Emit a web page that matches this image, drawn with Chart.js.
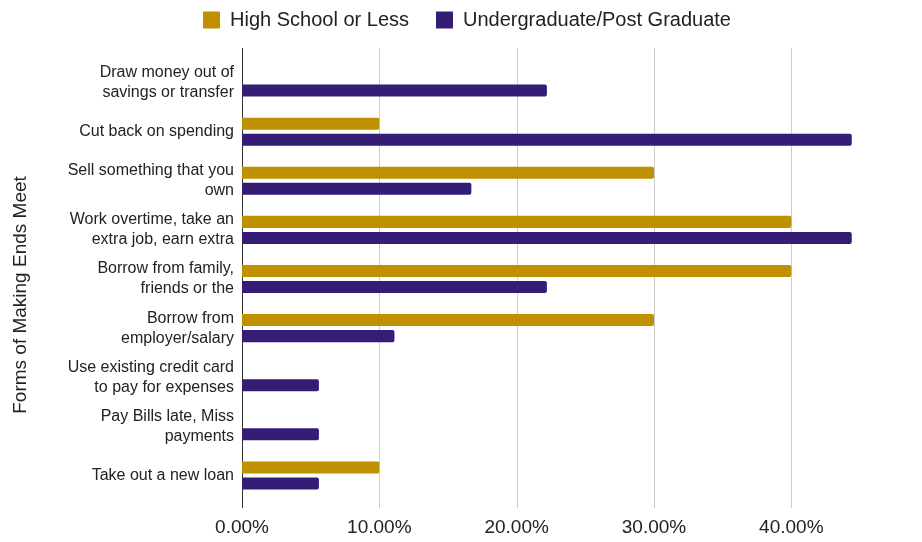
<!DOCTYPE html>
<html>
<head>
<meta charset="utf-8">
<script src="https://cdn.jsdelivr.net/npm/chart.js@4"></script>
<style>
  html, body { margin: 0; padding: 0; background: #fff; }
  #wrap { width: 922px; height: 542px; }
</style>
</head>
<body>
<div id="wrap"><canvas id="chart" width="922" height="542"></canvas></div>
<script>
// categories (y axis), multi-line like the original
const categories = [
    ['Draw money out of', 'savings or transfer'],
    'Cut back on spending',
    ['Sell something that you', 'own'],
    ['Work overtime, take an', 'extra job, earn extra'],
    ['Borrow from family,', 'friends or the'],
    ['Borrow from', 'employer/salary'],
    ['Use existing credit card', 'to pay for expenses'],
    ['Pay Bills late, Miss', 'payments'],
    'Take out a new loan'
];

// shares, as fractions
const highSchool = [0, 0.10, 0.30, 0.40, 0.40, 0.30, 0, 0, 0.10];
const undergrad = [0.222, 0.444, 0.167, 0.444, 0.222, 0.111, 0.056, 0.056, 0.056];

const seriesNames = ['High School or Less', 'Undergraduate/Post Graduate'];
const xTicks = [0, 0.1, 0.2, 0.3, 0.4];
const axisTitle = 'Forms of Making Ends Meet';

const textColor = '#222';

// grid lines a bit longer than the plot area, like the sheets export
const gridPlugin = {
    id: 'longGrid',
    beforeDatasetsDraw(chart) {
        const { ctx, chartArea, scales } = chart;
        ctx.save();
        scales.x.ticks.forEach(t => {
            const x = Math.round(scales.x.getPixelForValue(t.value)) + 0.5;
            ctx.strokeStyle = t.value === 0 ? '#333' : '#ccc';
            ctx.lineWidth = 1;
            ctx.beginPath();
            ctx.moveTo(x, chartArea.top - 10);
            ctx.lineTo(x, chartArea.bottom + 8);
            ctx.stroke();
        });
        ctx.restore();
    }
};

// room under the legend (layout top padding is negative), legend nudged right,
// axis title sits a bit lower than the plot centre
const layoutTweaks = {
    id: 'layoutTweaks',
    beforeInit(chart) {
        const fit = chart.legend.fit;
        chart.legend.fit = function () {
            fit.bind(chart.legend)();
            this.height = 75;
        };
    },
    afterLayout(chart) {
        chart.legend.left += 37;
        chart.legend.right += 37;
        const y = chart.scales.y;
        if (!y._titleShifted) {
            const drawTitle = y.drawTitle;
            y.drawTitle = function () {
                this.ctx.save();
                this.ctx.translate(0, 16);
                drawTitle.call(this);
                this.ctx.restore();
            };
            y._titleShifted = true;
        }
    }
};

new Chart(document.getElementById('chart'), {
    type: 'bar',
    data: {
        labels: categories,
        datasets: [{
            label: seriesNames[0],
            data: highSchool,
            backgroundColor: '#bf9000',
            borderRadius: 2,
            borderSkipped: 'start'
        }, {
            label: seriesNames[1],
            data: undergrad,
            backgroundColor: '#351c75',
            borderRadius: 2,
            borderSkipped: 'start'
        }]
    },
    options: {
        indexAxis: 'y',
        responsive: false,
        animation: false,
        categoryPercentage: 0.653,
        barPercentage: 0.75,
        layout: {
            padding: { left: 0, right: 62, top: -17, bottom: 0 }
        },
        scales: {
            x: {
                min: 0,
                max: 0.45,
                grid: { display: false, drawTicks: false },
                border: { display: false },
                afterBuildTicks(scale) {
                    scale.ticks = xTicks.map(v => ({ value: v }));
                },
                afterFit(scale) {
                    scale.height = 42;
                },
                ticks: {
                    padding: 16,
                    maxRotation: 0,
                    color: textColor,
                    font: { family: 'Liberation Sans, Arial', size: 19 },
                    callback: v => (v * 100).toFixed(2) + '%'
                }
            },
            y: {
                grid: { display: false, drawTicks: false },
                border: { display: false },
                afterFit(scale) {
                    scale.width = 242;
                },
                ticks: {
                    padding: 8,
                    color: textColor,
                    font: { family: 'Liberation Sans, Arial', size: 16, lineHeight: 1.25 }
                },
                title: {
                    display: true,
                    text: axisTitle,
                    color: textColor,
                    padding: { top: 9, bottom: 0 },
                    font: { family: 'Liberation Sans, Arial', size: 19 }
                }
            }
        },
        plugins: {
            legend: {
                position: 'top',
                labels: {
                    boxWidth: 17,
                    boxHeight: 17,
                    padding: 27,
                    color: textColor,
                    font: { family: 'Liberation Sans, Arial', size: 20 }
                }
            },
            tooltip: { enabled: false }
        }
    },
    plugins: [gridPlugin, layoutTweaks]
});
</script>
</body>
</html>
